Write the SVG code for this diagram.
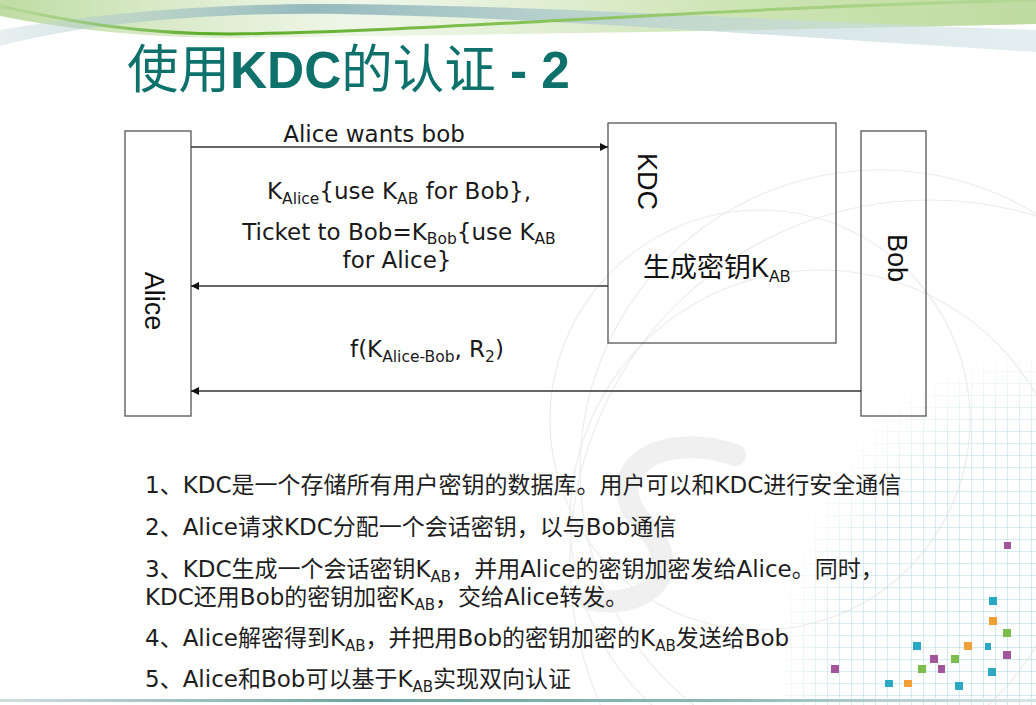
<svg xmlns="http://www.w3.org/2000/svg" width="1036" height="705" viewBox="0 0 1036 705">
  <defs>
    <style>
      .box { fill: none; stroke: #555; stroke-width: 1.3; }
      .conn { stroke: #333; stroke-width: 1.3; fill: none; marker-end: url(#arrow); }
      .msg { font-family: "DejaVu Sans", "Noto Sans CJK SC", sans-serif; font-size: 23px; fill: #1a1a1a; }
      .sub { font-size: 15.5px; }
      .lbl { font-family: "Liberation Sans", "Noto Sans CJK SC", sans-serif; font-size: 27px; fill: #111; }
      .note { font-family: "DejaVu Sans", "Noto Sans CJK SC", sans-serif; font-size: 23px; fill: #1e1e1e; }
      .nsub { font-size: 15px; }
      .title { font-family: "Liberation Sans", "Noto Sans CJK SC", sans-serif; font-size: 52px; fill: #0e716b; }
      .arc { fill: none; stroke: #ececec; stroke-width: 1.2; }
      .sq-t { fill: #2aa8c4; } .sq-o { fill: #f0a035; } .sq-g { fill: #7dbd4e; } .sq-m { fill: #a3559c; }
    </style>
    <marker id="arrow" viewBox="0 0 10 10" refX="10" refY="5" markerWidth="10" markerHeight="8" markerUnits="userSpaceOnUse" orient="auto">
      <path d="M0,0 L10,5 L0,10 Z" fill="#111"/>
    </marker>
    <linearGradient id="greenFade" x1="0" y1="0" x2="1" y2="0">
      <stop offset="0" stop-color="#afd38c" stop-opacity="0.8"/>
      <stop offset="0.35" stop-color="#e0eed3" stop-opacity="0.5"/>
      <stop offset="0.7" stop-color="#bddb9b" stop-opacity="0.75"/>
      <stop offset="1" stop-color="#b3d590" stop-opacity="0.85"/>
    </linearGradient>
    <linearGradient id="tealFade" x1="0" y1="0" x2="1" y2="0">
      <stop offset="0" stop-color="#c5d9da" stop-opacity="0.4"/>
      <stop offset="0.3" stop-color="#7faab3" stop-opacity="0.8"/>
      <stop offset="0.65" stop-color="#bcd3d7" stop-opacity="0.7"/>
      <stop offset="1" stop-color="#d3e4e7" stop-opacity="0.6"/>
    </linearGradient>
    <linearGradient id="greenLine" x1="0" y1="0" x2="1" y2="0">
      <stop offset="0" stop-color="#a9d089" stop-opacity="0.5"/>
      <stop offset="0.2" stop-color="#5aab26"/>
      <stop offset="0.5" stop-color="#85c155"/>
      <stop offset="1" stop-color="#b0d590" stop-opacity="0.7"/>
    </linearGradient>
    <linearGradient id="footLine" x1="0" y1="0" x2="1" y2="0">
      <stop offset="0" stop-color="#d2dede"/>
      <stop offset="0.35" stop-color="#6fa3a3"/>
      <stop offset="0.7" stop-color="#8fb8b8"/>
      <stop offset="1" stop-color="#d6e4e4"/>
    </linearGradient>
    <pattern id="grid" width="12" height="12" patternUnits="userSpaceOnUse">
      <path d="M12,0 V12 M0,12 H12" fill="none" stroke="#a6d3dd" stroke-width="1"/>
    </pattern>
    <radialGradient id="gridFade" cx="1" cy="1" r="1.05">
      <stop offset="0" stop-color="#fff" stop-opacity="1"/>
      <stop offset="0.75" stop-color="#fff" stop-opacity="0.85"/>
      <stop offset="1" stop-color="#fff" stop-opacity="0"/>
    </radialGradient>
    <mask id="gridMask">
      <rect x="780" y="360" width="256" height="345" fill="url(#gridFade)"/>
    </mask>
  </defs>

  <!-- page background -->
  <rect width="1036" height="705" fill="#ffffff"/>

  <!-- top ribbon -->
  <g id="ribbon">
    <path d="M0,0 H1036 V24 C860,28 620,33 240,38 C150,38 70,30 0,16 Z" fill="url(#greenFade)"/>
    <path d="M0,46 C90,22 220,12 340,14 C560,18 800,38 1036,52 L1036,30 C800,22 560,6 340,4 C210,3 90,14 0,30 Z" fill="url(#tealFade)"/>
    <path d="M0,6 C70,22 140,34 230,34 C430,32 700,8 1036,0" fill="none" stroke="url(#greenLine)" stroke-width="3"/>
  </g>

  <!-- faint background arcs, grid and watermark -->
  <g id="backdrop">
    <circle class="arc" cx="880" cy="470" r="300"/>
    <circle class="arc" cx="820" cy="520" r="250"/>
    <circle class="arc" cx="760" cy="420" r="210"/>
    <circle class="arc" cx="930" cy="560" r="360"/>
    <path d="M735,455 C660,430 600,470 640,520 C690,570 650,610 590,600" fill="none" stroke="#f0f0f0" stroke-width="22" stroke-linecap="round"/>
    <rect x="780" y="360" width="256" height="345" fill="url(#grid)" mask="url(#gridMask)"/>
  </g>

  <!-- title -->
  <text id="title" class="title" x="127" y="88" textLength="443" lengthAdjust="spacingAndGlyphs">使用<tspan font-weight="bold">KDC</tspan>的认证 <tspan font-weight="bold">- 2</tspan></text>

  <!-- nodes -->
  <g id="alice">
    <rect class="box" x="125" y="131" width="66" height="285"/>
    <text class="lbl" transform="translate(145,301) rotate(90)" text-anchor="middle">Alice</text>
  </g>
  <g id="kdc">
    <rect class="box" x="608" y="123" width="228" height="220"/>
    <text class="lbl" font-size="25" transform="translate(638,153) rotate(90)">KDC</text>
    <text class="lbl" x="643" y="277" font-size="25">生成密钥K<tspan font-size="16" dy="5">AB</tspan></text>
  </g>
  <g id="bob">
    <rect class="box" x="861" y="131" width="65" height="285"/>
    <text class="lbl" transform="translate(888,234) rotate(90)">Bob</text>
  </g>

  <!-- connectors -->
  <g id="connectors">
    <line class="conn" x1="191" y1="147" x2="608" y2="147"/>
    <line class="conn" x1="608" y1="286" x2="191" y2="286"/>
    <line class="conn" x1="861" y1="391" x2="191" y2="391"/>
  </g>

  <!-- connector labels -->
  <g id="connector-labels">
    <text class="msg" x="374" y="142" text-anchor="middle">Alice wants bob</text>
    <text class="msg" x="399" y="199" text-anchor="middle">K<tspan class="sub" dy="5">Alice</tspan><tspan dy="-5">{use K</tspan><tspan class="sub" dy="5">AB</tspan><tspan dy="-5"> for Bob},</tspan></text>
    <text class="msg" x="399" y="240" text-anchor="middle">Ticket to Bob=K<tspan class="sub" dy="4">Bob</tspan><tspan dy="-4">{use K</tspan><tspan class="sub" dy="4">AB</tspan></text>
    <text class="msg" x="397" y="268" text-anchor="middle">for Alice}</text>
    <text class="msg" x="427" y="357" text-anchor="middle">f(K<tspan class="sub" dy="5">Alice-Bob</tspan><tspan dy="-5">, R</tspan><tspan class="sub" dy="5">2</tspan><tspan dy="-5">)</tspan></text>
  </g>

  <!-- explanatory notes -->
  <g id="notes">
    <text class="note" x="145" y="493">1、KDC是一个存储所有用户密钥的数据库。用户可以和KDC进行安全通信</text>
    <text class="note" x="145" y="535">2、Alice请求KDC分配一个会话密钥，以与Bob通信</text>
    <text class="note" x="145" y="577">3、KDC生成一个会话密钥K<tspan class="nsub" dy="5">AB</tspan><tspan dy="-5">，并用Alice的密钥加密发给Alice。同时，</tspan></text>
    <text class="note" x="145" y="605">KDC还用Bob的密钥加密K<tspan class="nsub" dy="5">AB</tspan><tspan dy="-5">，交给Alice转发。</tspan></text>
    <text class="note" x="145" y="646">4、Alice解密得到K<tspan class="nsub" dy="5">AB</tspan><tspan dy="-5">，并把用Bob的密钥加密的K</tspan><tspan class="nsub" dy="5">AB</tspan><tspan dy="-5">发送给Bob</tspan></text>
    <text class="note" x="145" y="687">5、Alice和Bob可以基于K<tspan class="nsub" dy="5">AB</tspan><tspan dy="-5">实现双向认证</tspan></text>
  </g>

  <!-- decorative squares -->
  <g id="squares">
    <rect class="sq-m" x="1004" y="542" width="7" height="7"/>
    <rect class="sq-t" x="989" y="597" width="8" height="8"/>
    <rect class="sq-o" x="989" y="617" width="8" height="8"/>
    <rect class="sq-g" x="1003" y="629" width="8" height="8"/>
    <rect class="sq-t" x="913" y="642" width="8" height="8"/>
    <rect class="sq-o" x="964" y="642" width="8" height="8"/>
    <rect class="sq-t" x="985" y="643" width="6" height="7"/>
    <rect class="sq-m" x="1003" y="651" width="8" height="8"/>
    <rect class="sq-m" x="930" y="655" width="8" height="8"/>
    <rect class="sq-g" x="951" y="655" width="8" height="8"/>
    <rect class="sq-m" x="831" y="665" width="8" height="8"/>
    <rect class="sq-g" x="918" y="665" width="8" height="8"/>
    <rect class="sq-m" x="938" y="665" width="7" height="8"/>
    <rect class="sq-t" x="988" y="668" width="8" height="8"/>
    <rect class="sq-t" x="885" y="680" width="8" height="7"/>
    <rect class="sq-o" x="904" y="680" width="8" height="7"/>
    <rect class="sq-t" x="955" y="682" width="8" height="8"/>
  </g>

  <!-- footer rule -->
  <rect x="0" y="699" width="1036" height="3" fill="url(#footLine)"/>
</svg>
